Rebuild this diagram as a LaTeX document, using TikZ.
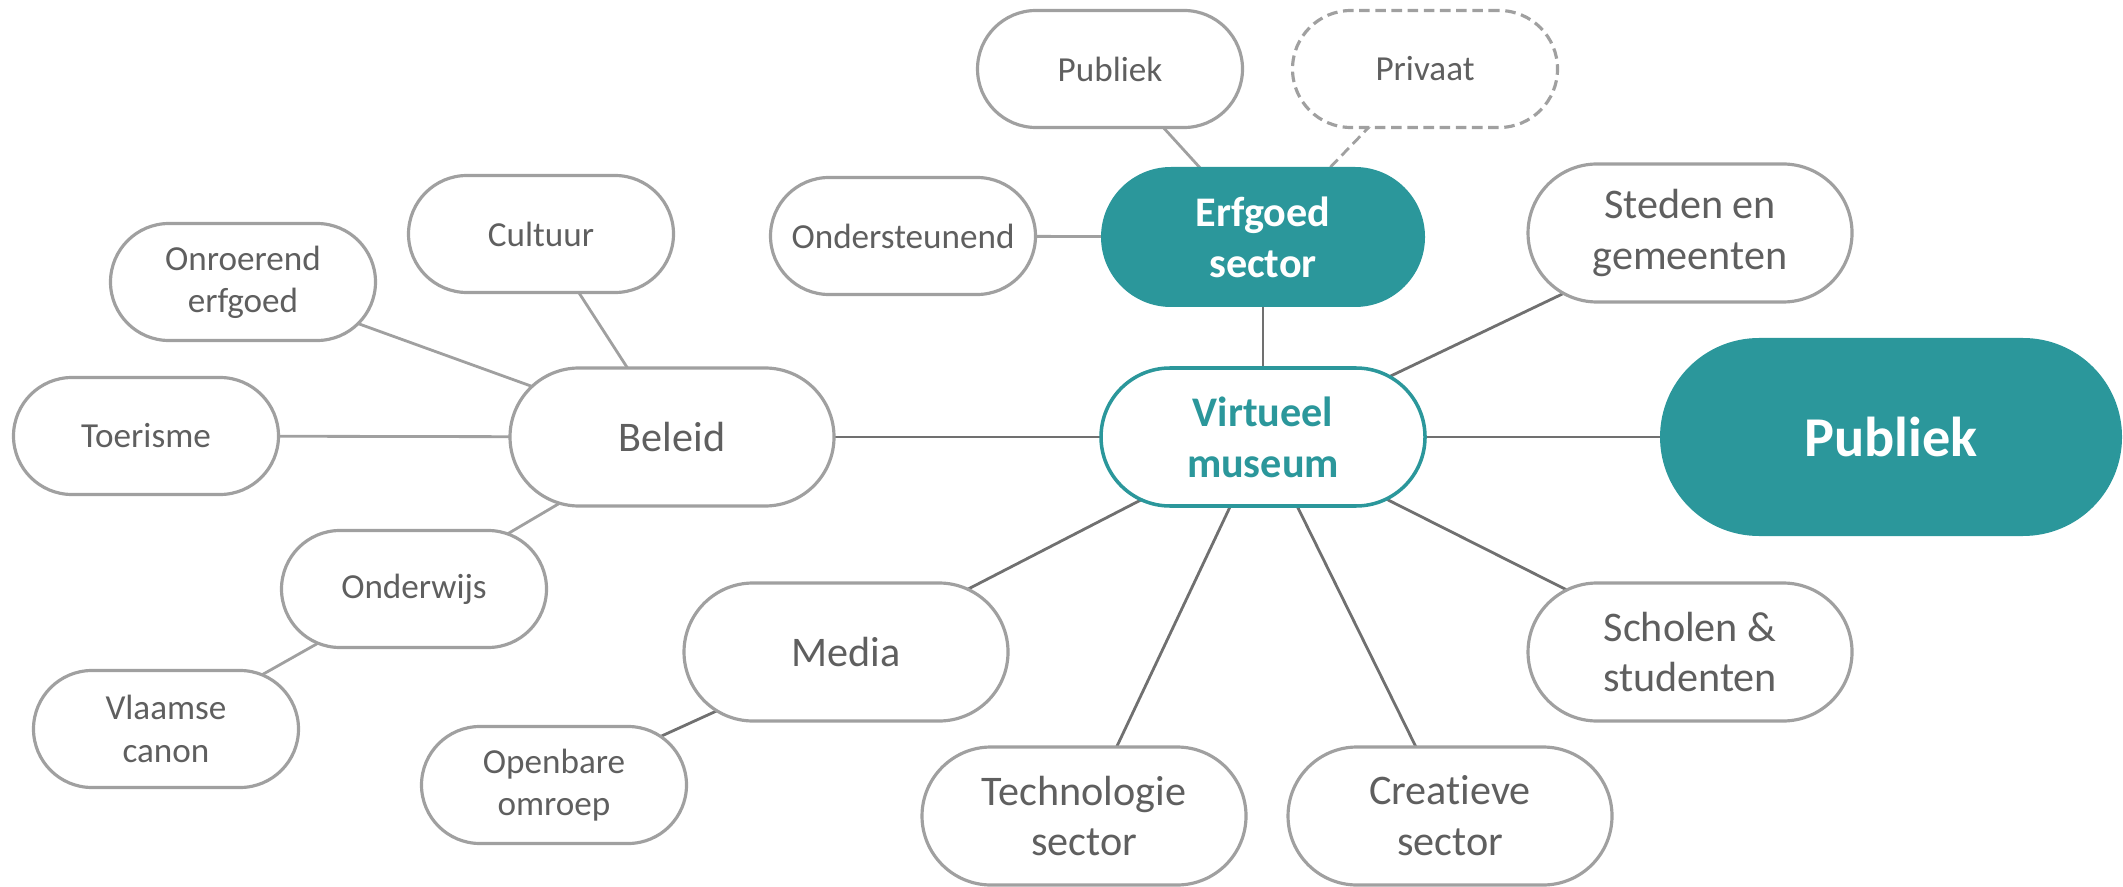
\documentclass[tikz,border=0pt]{standalone}
\usepackage{fontspec}
\setmainfont{Carlito}[Ligatures=NoCommon]
\usepackage{xcolor}
\usetikzlibrary{backgrounds}
\definecolor{museumteal}{RGB}{43,151,155}
\definecolor{rimgrey}{RGB}{160,160,160}
\definecolor{textgrey}{RGB}{95,95,95}
\definecolor{spokegrey}{RGB}{112,112,112}

\begin{document}
\begin{tikzpicture}[
    pill/.style={rectangle, draw=rimgrey, line width=0.9pt, fill=white, text=textgrey, align=center, inner sep=0pt},
    leaf/.style={pill, minimum width=2.65cm, minimum height=1.17cm, rounded corners=0.585cm, font=\fontsize{10}{12}\selectfont},
    branch/.style={pill, minimum width=3.24cm, minimum height=1.38cm, rounded corners=0.69cm, font=\fontsize{12}{14.5}\selectfont},
    spoke/.style={draw=spokegrey, line width=0.8pt},
    twig/.style={draw=rimgrey, line width=0.8pt},
    maybe/.style={dash pattern=on 3pt off 1.6pt}
]
\useasboundingbox (0,0) rectangle (21.23,8.86);

% centre and main groups
\node[branch, draw=museumteal, line width=1pt, text=museumteal, font=\fontsize{12}{14.5}\selectfont\bfseries] (virtueel) at (12.63,4.49) {Virtueel\\museum};
\node[branch, draw=none, fill=museumteal, text=white, minimum height=1.40cm, rounded corners=0.7cm, font=\fontsize{12}{14.5}\selectfont\bfseries] (erfgoed) at (12.63,6.49) {Erfgoed\\sector};
\node[pill, draw=none, fill=museumteal, text=white, minimum width=4.62cm, minimum height=1.98cm, rounded corners=0.99cm, font=\fontsize{16}{19}\selectfont\bfseries] (publiek) at (18.91,4.49) {Publiek};

\node[branch] (beleid) at (6.72,4.49) {Beleid};
\node[branch] (media) at (8.46,2.34) {Media};
\node[branch] (techno) at (10.84,0.70) {Technologie\\sector};
\node[branch] (creatief) at (14.50,0.70) {Creatieve\\sector};
\node[branch] (scholen) at (16.90,2.34) {Scholen \&\\studenten};
\node[branch] (steden) at (16.90,6.53) {Steden en\\gemeenten};

% erfgoed sector
\node[leaf] (pubsector) at (11.10,8.17) {Publiek};
\node[leaf, maybe] (privaat) at (14.25,8.17) {Privaat};
\node[leaf] (onderst) at (9.03,6.50) {Ondersteunend};

% beleid
\node[leaf] (cultuur) at (5.41,6.52) {Cultuur};
\node[leaf] (onroerend) at (2.43,6.04) {Onroerend\\erfgoed};
\node[leaf] (toerisme) at (1.46,4.50) {Toerisme};
\node[leaf] (onderwijs) at (4.14,2.97) {Onderwijs};
\node[leaf] (canon) at (1.66,1.57) {Vlaamse\\canon};

% media
\node[leaf] (omroep) at (5.54,1.01) {Openbare\\omroep};

\begin{scope}[on background layer]
\draw[spoke] (virtueel.center) -- (erfgoed.center);
\draw[spoke] (virtueel.center) -- (publiek.center);
\draw[spoke] (virtueel.center) -- (beleid.center);
\draw[spoke] (virtueel.center) -- (media.center);
\draw[spoke] (virtueel.center) -- (techno.center);
\draw[spoke] (virtueel.center) -- (creatief.center);
\draw[spoke] (virtueel.center) -- (scholen.center);
\draw[spoke] (virtueel.center) -- (steden.center);
\draw[spoke] (media.center) -- (omroep.center);

\draw[twig] (erfgoed.center) -- (pubsector.center);
\draw[twig, maybe] (erfgoed.center) -- (privaat.center);
\draw[twig] (erfgoed.center) -- (onderst.center);
\draw[twig] (beleid.center) -- (cultuur.center);
\draw[twig] (beleid.center) -- (onroerend.center);
\draw[twig] (beleid.center) -- (toerisme.center);
\draw[twig] (beleid.center) -- (onderwijs.center);
\draw[twig] (onderwijs.center) -- (canon.center);
\end{scope}

\end{tikzpicture}
\end{document}
